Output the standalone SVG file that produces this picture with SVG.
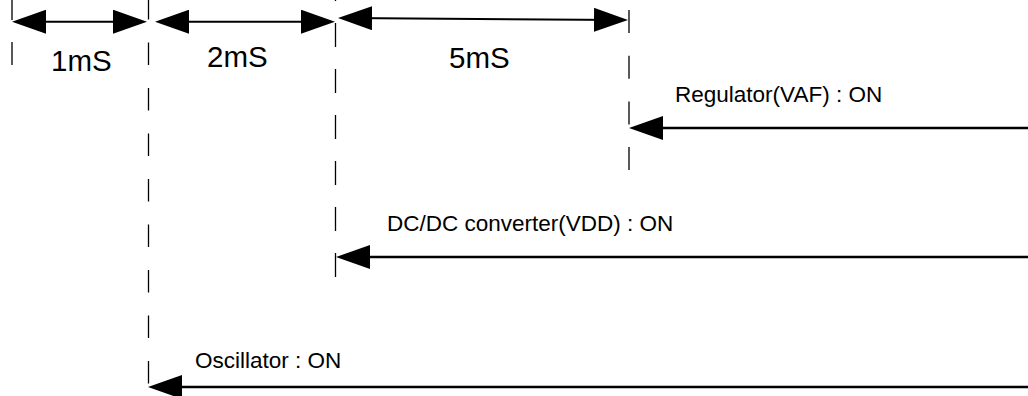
<svg xmlns="http://www.w3.org/2000/svg" width="1028" height="396" viewBox="0 0 1028 396">
  <style>
    .guide { stroke: #000; stroke-width: 1.3; fill: none; }
    .dim { stroke: #000; stroke-width: 2; fill: none; marker-start: url(#ah); marker-end: url(#ah); }
    .sig { stroke: #000; stroke-width: 2.6; fill: none; marker-end: url(#ah); }
    .big { font-family: "Liberation Sans", Arial, sans-serif; font-size: 29.5px; fill: #000; }
    .lbl { font-family: "Liberation Sans", Arial, sans-serif; font-size: 22.5px; fill: #000; }
  </style>
  <defs>
    <marker id="ah" viewBox="0 0 34 24" markerUnits="userSpaceOnUse" markerWidth="34" markerHeight="24" refX="26" refY="12" orient="auto-start-reverse">
      <path d="M0,0 L34,12 L0,24 Z" fill="#000"/>
    </marker>
  </defs>
  <rect width="1028" height="396" fill="#fff"/>

  <g id="guides">
    <line class="guide" x1="12" y1="-3" x2="12" y2="66" stroke-dasharray="23 22"/>
    <line class="guide" x1="148.5" y1="-3" x2="148.5" y2="394" stroke-dasharray="22.5 23"/>
    <line class="guide" x1="335.5" y1="-23" x2="335.5" y2="277" stroke-dasharray="24 22"/>
    <line class="guide" x1="629" y1="10" x2="629" y2="170" stroke-dasharray="23 22.7"/>
  </g>

  <g id="connectors">
    <line class="dim" x1="20" y1="21.7" x2="139" y2="21.7"/>
    <line class="dim" x1="163" y1="21.7" x2="327" y2="21.7"/>
    <line class="dim" x1="346" y1="18" x2="620" y2="20"/>
    <line class="sig" x1="1028" y1="128" x2="637" y2="128"/>
    <line class="sig" x1="1028" y1="257" x2="344" y2="257"/>
    <line class="sig" x1="1028" y1="387" x2="156" y2="387"/>
  </g>

  <g id="node-1ms"><text class="big" x="51" y="71">1mS</text></g>
  <g id="node-2ms"><text class="big" x="207" y="67">2mS</text></g>
  <g id="node-5ms"><text class="big" x="449" y="68">5mS</text></g>
  <g id="node-regulator"><text class="lbl" x="675" y="102">Regulator(VAF) : ON</text></g>
  <g id="node-dcdc"><text class="lbl" x="387" y="231">DC/DC converter(VDD) : ON</text></g>
  <g id="node-oscillator"><text class="lbl" x="195" y="368">Oscillator : ON</text></g>
</svg>
